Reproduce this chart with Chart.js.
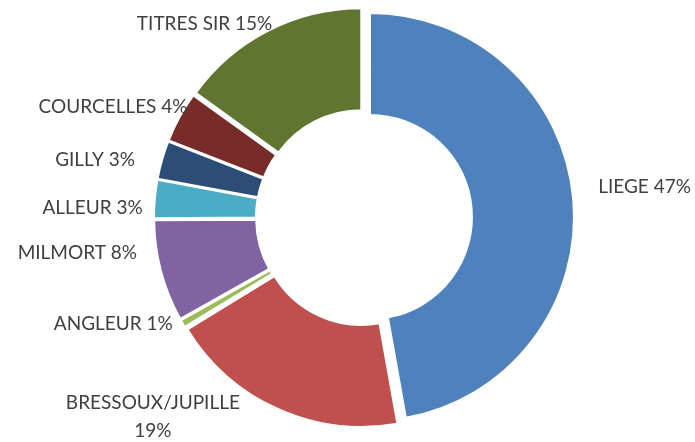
<!DOCTYPE html>
<html>
<head>
<meta charset="utf-8">
<script src="https://cdn.jsdelivr.net/npm/chart.js@4.4.0/dist/chart.umd.min.js"></script>
<style>
    html, body { margin: 0; padding: 0; background: #fff; }
</style>
</head>
<body>
<canvas id="SitesChart" width="695" height="442"></canvas>
<script>
var siteLabels = ["LIEGE", "BRESSOUX/JUPILLE", "ANGLEUR", "MILMORT", "ALLEUR", "GILLY", "COURCELLES", "TITRES SIR"];
var siteValues = [47, 19, 0.6, 8, 3, 3, 4, 15];
var siteColors = ["#4F81BD", "#C0504D", "#9BBB59", "#8064A2", "#4BACC6", "#2C4D75", "#772C2A", "#5F7530"];

// label spot, relative to the middle of each slice's outer edge
var labelPlacement = [
    { align: "left", dx: 25, dy: -13 },
    { align: "center", dx: -125, dy: -7, wrap: true },
    { align: "right", dx: -10, dy: 0 },
    { align: "right", dx: -24, dy: -19 },
    { align: "right", dx: -12, dy: 8 },
    { align: "right", dx: -27, dy: -1 },
    { align: "right", dx: 8, dy: -11 },
    { align: "right", dx: 4, dy: -7 }
];

var EXPLODE = 6;
var LABEL_SIZE = 19;
var LINE_GAP = 28;

// move every slice out along its bisector, like an exploded Excel doughnut
var explodeSlices = {
    id: "explodeSlices",
    afterDatasetUpdate: function (chart, args) {
        args.meta.data.forEach(function (arc) {
            var mid = (arc.startAngle + arc.endAngle) / 2;
            arc.x += Math.cos(mid) * EXPLODE;
            arc.y += Math.sin(mid) * EXPLODE;
        });
    }
};

var outsideLabels = {
    id: "outsideLabels",
    afterDatasetsDraw: function (chart) {
        var ctx = chart.ctx;
        var arcs = chart.getDatasetMeta(0).data;
        var total = siteValues.reduce(function (a, b) { return a + b; }, 0);
        var cap = LABEL_SIZE * 0.72;
        ctx.save();
        ctx.font = LABEL_SIZE + "px Lato";
        ctx.fillStyle = "#404040";
        ctx.textBaseline = "alphabetic";
        arcs.forEach(function (arc, i) {
            var place = labelPlacement[i];
            var mid = (arc.startAngle + arc.endAngle) / 2;
            var ax = arc.x + Math.cos(mid) * arc.outerRadius + place.dx;
            var ay = arc.y + Math.sin(mid) * arc.outerRadius + place.dy;
            var pct = Math.round(siteValues[i] / total * 100) + "%";
            var lines = place.wrap ? [siteLabels[i], pct] : [siteLabels[i] + " " + pct];
            ctx.textAlign = place.align;
            lines.forEach(function (line, k) {
                ctx.fillText(line, ax, ay + k * LINE_GAP + cap / 2);
            });
        });
        ctx.restore();
    }
};

new Chart("SitesChart", {
    type: "doughnut",
    data: {
        labels: siteLabels,
        datasets: [{
            data: siteValues,
            backgroundColor: siteColors,
            borderColor: "#ffffff",
            borderWidth: 2
        }]
    },
    options: {
        responsive: false,
        animation: false,
        events: [],
        radius: 204,
        cutout: "50%",
        layout: { padding: { left: 33, right: 0, top: 0, bottom: 7 } },
        plugins: {
            legend: { display: false },
            tooltip: { enabled: false }
        }
    },
    plugins: [explodeSlices, outsideLabels]
});
</script>
</body>
</html>
